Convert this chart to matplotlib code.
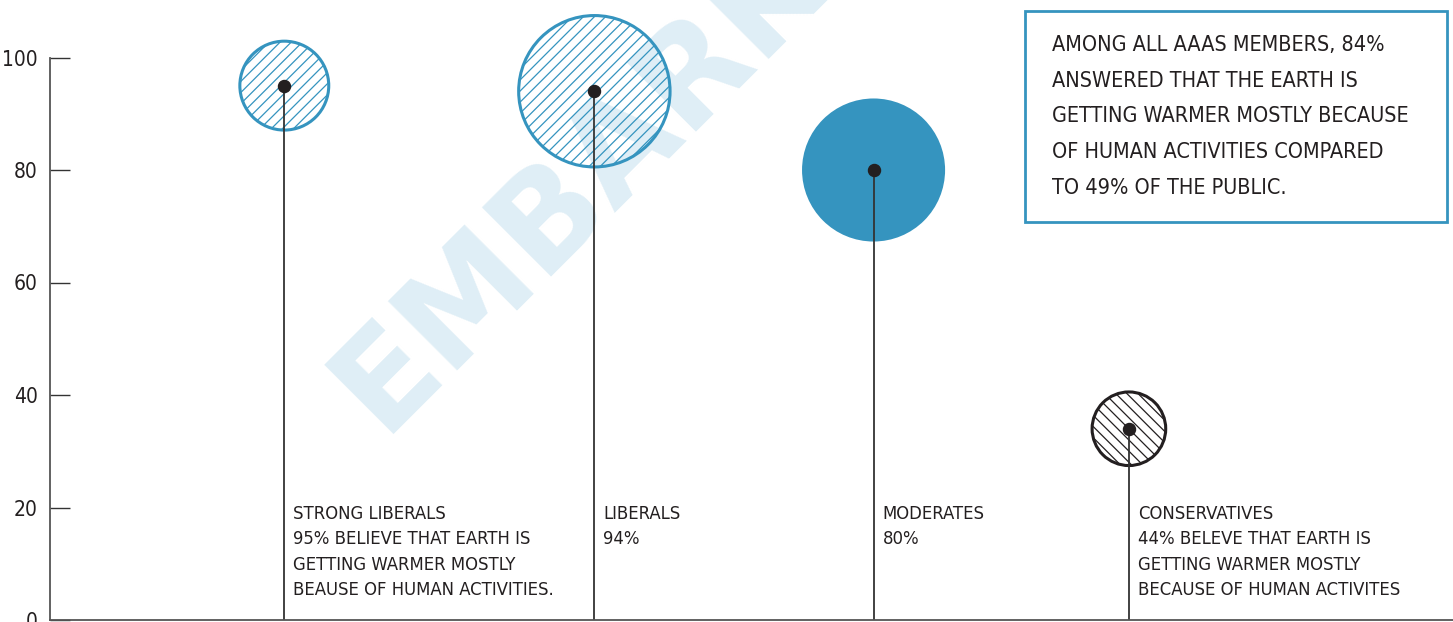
import matplotlib.pyplot as plt
from matplotlib import font_manager as fm
from matplotlib.patches import Rectangle

# данные
groups = ['STRONG LIBERALS', 'LIBERALS', 'MODERATES', 'CONSERVATIVES']
values = [95, 94, 80, 34]
notes = ['95% BELIEVE THAT EARTH IS\nGETTING WARMER MOSTLY\nBEAUSE OF HUMAN ACTIVITIES.',
         '94%',
         '80%',
         '44% BELEVE THAT EARTH IS\nGETTING WARMER MOSTLY\nBECAUSE OF HUMAN ACTIVITES']
yticks = [0, 20, 40, 60, 80, 100]
box_text = ('AMONG ALL AAAS MEMBERS, 84%\nANSWERED THAT THE EARTH IS\n'
            'GETTING WARMER MOSTLY BECAUSE\nOF HUMAN ACTIVITIES COMPARED\n'
            'TO 49% OF THE PUBLIC.')

# раскладка
xpos = [16.7, 38.8, 58.7, 76.9]
diam = [64, 109, 103, 53]  # диаметр пузыря, pt
BLUE = '#3594bf'
DARK = '#231f20'
styles = [
    dict(facecolor='none', edgecolor=BLUE, hatch='///', linewidths=2.2),
    dict(facecolor='none', edgecolor=BLUE, hatch='///', linewidths=2.2),
    dict(facecolor=BLUE, edgecolor='none'),
    dict(facecolor='none', edgecolor=DARK, hatch='\\\\\\', linewidths=2.2),
]

# ищем узкий шрифт
narrow = None
for f in fm.fontManager.ttflist:
    n = f.fname.lower()
    if ('narrow' in n or 'condensed' in n) and 'bold' not in n and 'oblique' not in n \
            and 'italic' not in n and 'semicondensed' not in n:
        narrow = f.fname
        break


def fp(size):
    if narrow:
        return fm.FontProperties(fname=narrow, size=size)
    return fm.FontProperties(family='DejaVu Sans', size=size * 0.85)


plt.rcParams['hatch.linewidth'] = 0.9

W, H = 1453, 622
fig = plt.figure(figsize=(W / 100, H / 100), dpi=100)

# водяной знак
fig.text(382 / W, 1 - 434 / H, 'EMBARK', family='DejaVu Sans', weight='bold',
         fontsize=96, color='#dfeef6', rotation=45, rotation_mode='anchor',
         ha='left', va='baseline', zorder=-1)

ax = fig.add_axes([50 / W, 2 / H, (W - 50) / W, 562.5 / H])
ax.set_facecolor('none')
ax.set_xlim(0, 100)
ax.set_ylim(0, 100)

for x, v, d, st in zip(xpos, values, diam, styles):
    ax.vlines(x, 0, v, color='#333333', lw=1.3, zorder=2)
    ax.scatter([x], [v], s=d ** 2, zorder=1, clip_on=False, **st)
    ax.scatter([x], [v], s=75, color=DARK, zorder=3, clip_on=False)

for x, g, n in zip(xpos, groups, notes):
    ax.text(x + 0.65, 20.5, g + '\n' + n, ha='left', va='top',
            fontproperties=fp(13.2), color=DARK, linespacing=1.53)

ax.spines['top'].set_visible(False)
ax.spines['right'].set_visible(False)
ax.spines['left'].set_color('#555555')
ax.spines['bottom'].set_color('#555555')
ax.spines['left'].set_linewidth(1.3)
ax.spines['bottom'].set_linewidth(1.3)
ax.set_xticks([])
ax.set_yticks(yticks)
ax.tick_params(axis='y', direction='in', length=14.5, width=1, color='#333333',
               pad=9, labelcolor=DARK)
for lbl in ax.get_yticklabels():
    lbl.set_fontproperties(fp(15))

# врезка с текстом
fig.add_artist(Rectangle((1025 / W, 1 - 222 / H), 422 / W, 211 / H,
                         transform=fig.transFigure, fill=False,
                         edgecolor=BLUE, lw=2))
fig.text(1052 / W, 1 - 35 / H, box_text, ha='left', va='top',
         fontproperties=fp(15.5), color=DARK, linespacing=1.98)

fig.savefig('out.png', dpi=100)
